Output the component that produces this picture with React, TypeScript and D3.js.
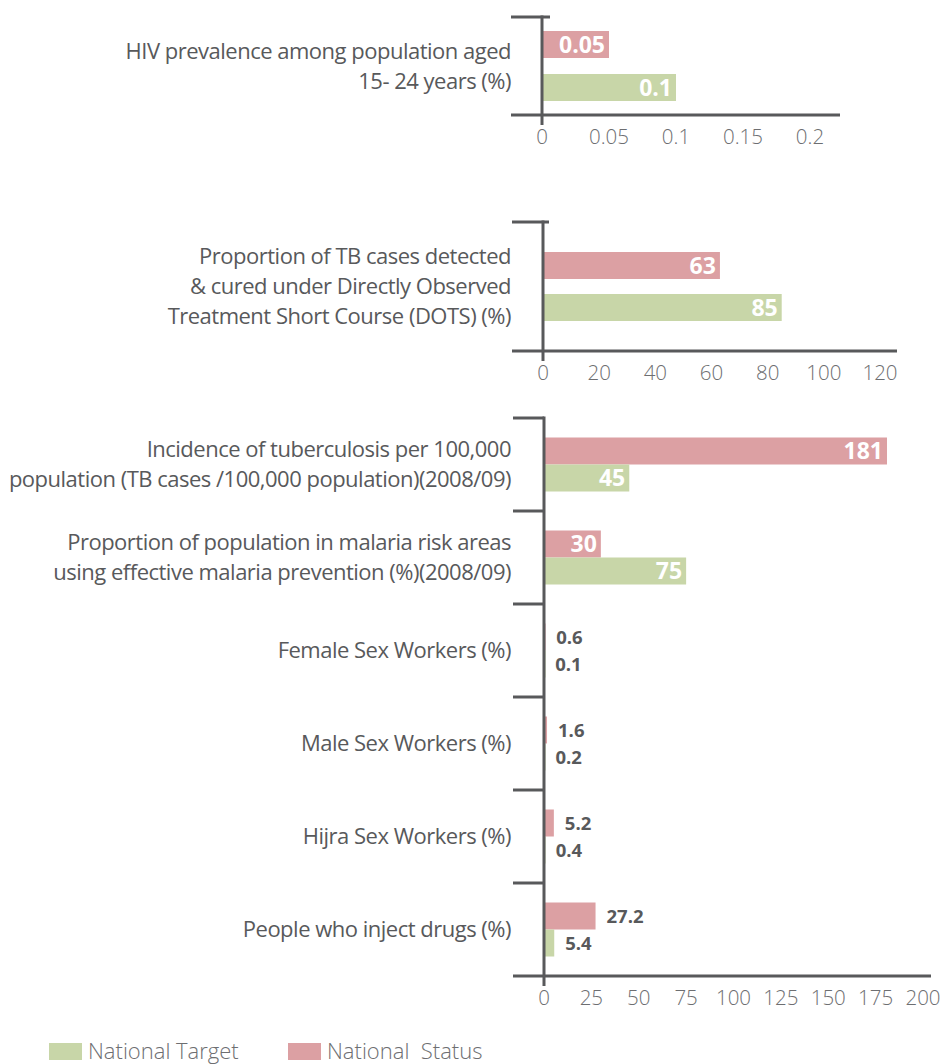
import React from "react";
import * as d3 from "d3";

// ---------- DATA ----------
const hivCategories = [["HIV prevalence among population aged", "15- 24 years (%)"]];
const hivStatus = [0.05];
const hivTarget = [0.1];
const hivTicks = [0, 0.05, 0.1, 0.15, 0.2];

const tbCategories = [[
  "Proportion of TB cases detected",
  "& cured under Directly Observed",
  "Treatment Short Course (DOTS) (%)",
]];
const tbStatus = [63];
const tbTarget = [85];
const tbTicks = [0, 20, 40, 60, 80, 100, 120];

const mainCategories = [
  ["Incidence of tuberculosis per 100,000", "population (TB cases /100,000 population)(2008/09)"],
  ["Proportion of population in malaria risk areas", "using effective malaria prevention (%)(2008/09)"],
  ["Female Sex Workers (%)"],
  ["Male Sex Workers (%)"],
  ["Hijra Sex Workers (%)"],
  ["People who inject drugs (%)"],
];
const mainStatus = [181, 30, 0.6, 1.6, 5.2, 27.2];
const mainTarget = [45, 75, 0.1, 0.2, 0.4, 5.4];
const mainTicks = [0, 25, 50, 75, 100, 125, 150, 175, 200];

const seriesNames = ["National Status", "National Target"];
const legendItems = ["National Target", "National  Status"];

// ---------- STYLE ----------
const RED = "#dca0a3";
const GREEN = "#c8d6a8";
const AXIS = "#58595b";
const TEXT = "#58595b";
const TICK_TEXT = "#6d6e71";
const FONT = "'Open Sans', 'Noto Sans', sans-serif";

type PanelProps = {
  categories: string[][];
  status: number[];
  target: number[];
  ticks: number[];
  domainMax: number;
  top: number;
  bottom: number;
  x0: number;
  x1: number;
  axisLeft: number;
  axisRight: number;
  gap: number;
  categoryTicks: boolean;
  topTickRight: number;
  fmt: (v: number) => string;
};

const BAR_H = 27;

function Panel(p: PanelProps) {
  const x = d3.scaleLinear().domain([0, p.domainMax]).range([p.x0, p.x1]);
  const keys = p.categories.map((_, i) => String(i));
  const y = d3.scaleBand<string>().domain(keys).range([p.top, p.bottom]);
  const innerSpan = 2 * BAR_H + p.gap;
  const inner = d3
    .scaleBand<string>()
    .domain(seriesNames)
    .range([0, innerSpan])
    .paddingInner(p.gap / (BAR_H + p.gap));
  const values = [p.status, p.target];
  const colors = [RED, GREEN];
  const lineH = 30;

  return (
    <g>
      {/* category labels */}
      {p.categories.map((lines, i) => {
        const cy = (y(keys[i]) as number) + y.bandwidth() / 2;
        const startY = cy - ((lines.length - 1) * lineH) / 2;
        return (
          <text
            key={"c" + i}
            textAnchor="end"
            fontFamily={FONT}
            fontSize={22}
            letterSpacing={-0.5}
            fill={TEXT}
          >
            {lines.map((l, j) => (
              <tspan key={j} x={511} y={startY + j * lineH} dy="0.35em">
                {l}
              </tspan>
            ))}
          </text>
        );
      })}

      {/* bars */}
      {keys.map((k, i) => {
        const by = (y(k) as number) + (y.bandwidth() - innerSpan) / 2;
        return seriesNames.map((s, si) => {
          const v = values[si][i];
          const yy = by + (inner(s) as number);
          const xe = x(v);
          const w = xe - x(0);
          const inside = w > 56;
          return (
            <g key={k + s}>
              <rect x={x(0)} y={yy} width={Math.max(w, 1.5)} height={BAR_H} fill={colors[si]} />
              <text
                x={inside ? xe - 4 : xe + 11}
                y={yy + BAR_H / 2}
                dy="0.36em"
                textAnchor={inside ? "end" : "start"}
                fontFamily={FONT}
                fontWeight={700}
                fontSize={inside ? 23 : 18.5}
                fill={inside ? "#ffffff" : TEXT}
              >
                {p.fmt(v)}
              </text>
            </g>
          );
        });
      })}

      {/* axes */}
      <line x1={p.axisLeft} x2={p.axisRight} y1={p.bottom} y2={p.bottom} stroke={AXIS} strokeWidth={3} />
      <line x1={x(0)} x2={x(0)} y1={p.top - 1.5} y2={p.bottom + 10} stroke={AXIS} strokeWidth={3} />
      <line x1={p.axisLeft} x2={p.topTickRight} y1={p.top} y2={p.top} stroke={AXIS} strokeWidth={3} />
      {p.categoryTicks &&
        keys.slice(1).map((k) => (
          <line
            key={"t" + k}
            x1={p.axisLeft}
            x2={x(0)}
            y1={y(k) as number}
            y2={y(k) as number}
            stroke={AXIS}
            strokeWidth={3}
          />
        ))}
      {p.ticks.map((t) => (
        <text
          key={"x" + t}
          x={x(t)}
          y={p.bottom + 22}
          dy="0.35em"
          textAnchor="middle"
          fontFamily={FONT}
          fontWeight={300}
          fontSize={20.5}
          fill={TICK_TEXT}
        >
          {String(t)}
        </text>
      ))}
    </g>
  );
}

export default function App() {
  const fmt = (v: number) => String(v);
  return (
    <svg width={945} height={1064} style={{ display: "block", position: "absolute", left: 0, top: 0 }}>
      <rect width={945} height={1064} fill="#ffffff" />
      <Panel
        categories={hivCategories}
        status={hivStatus}
        target={hivTarget}
        ticks={hivTicks}
        domainMax={0.2}
        top={17}
        bottom={115}
        x0={542}
        x1={810}
        axisLeft={511}
        axisRight={840}
        gap={16}
        categoryTicks={false}
        topTickRight={550}
        fmt={fmt}
      />
      <Panel
        categories={tbCategories}
        status={tbStatus}
        target={tbTarget}
        ticks={tbTicks}
        domainMax={120}
        top={222}
        bottom={351}
        x0={543}
        x1={880}
        axisLeft={512}
        axisRight={897}
        gap={15}
        categoryTicks={false}
        topTickRight={549}
        fmt={fmt}
      />
      <Panel
        categories={mainCategories}
        status={mainStatus}
        target={mainTarget}
        ticks={mainTicks}
        domainMax={200}
        top={418}
        bottom={976}
        x0={544}
        x1={923}
        axisLeft={513}
        axisRight={931}
        gap={0}
        categoryTicks={true}
        topTickRight={544}
        fmt={fmt}
      />
      {/* legend */}
      {legendItems.map((name, i) => {
        const lx = i === 0 ? 49 : 288;
        return (
          <g key={name}>
            <rect x={lx} y={1043} width={33} height={17} fill={i === 0 ? GREEN : RED} />
            <text
              x={lx + 39}
              y={1051.5}
              dy="0.35em"
              fontFamily={FONT}
              fontWeight={300}
              fontSize={22}
              fill={TICK_TEXT}
              style={{ whiteSpace: "pre" }}
            >
              {name}
            </text>
          </g>
        );
      })}
    </svg>
  );
}
